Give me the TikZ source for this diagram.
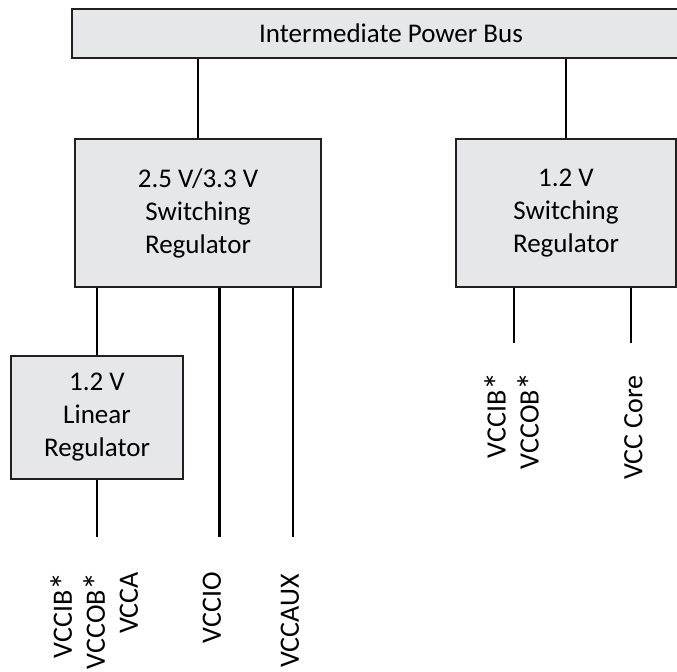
\documentclass[tikz,border=0pt]{standalone}
\usepackage{fontspec}
\setmainfont{Carlito}
\usetikzlibrary{positioning}
\definecolor{boxgray}{HTML}{E6E7E8}
\definecolor{edgegray}{HTML}{231F20}
\newcommand{\railast}{\raisebox{-0.35ex}{\scalebox{1.3}{*}}}

\begin{document}
\begin{tikzpicture}[x=0.5pt,y=-0.5pt,line width=1.1pt,
  regbox/.style={draw=edgegray,fill=boxgray,align=center,inner sep=0pt,font=\fontsize{13.5}{16.5}\selectfont},
  railtag/.style={rotate=90,anchor=east,align=right,inner sep=0pt,font=\fontsize{14}{16.5}\selectfont}]
\useasboundingbox (0,0) rectangle (677,672);
\clip (0,0) rectangle (677,672);
\node[regbox,minimum width=319pt,minimum height=24.5pt] (bus) at (391,33.5) {Intermediate Power Bus};
\node[regbox,minimum width=123pt,minimum height=74pt] (sw25) at (198,213) {2.5 V/3.3 V\\Switching\\Regulator};
\node[regbox,minimum width=110pt,minimum height=74pt] (sw12) at (566,213) {1.2 V\\Switching\\Regulator};
\node[regbox,minimum width=86pt,minimum height=61.5pt] (lin) at (97,417.5) {1.2 V\\Linear\\Regulator};
\coordinate (vccaend) at (97,537);
\coordinate (vccioend) at (219.5,537);
\coordinate (vccauxend) at (293,537);
\coordinate (vccbend) at (514,343);
\coordinate (coreend) at (631,343);
\draw (sw25.north) -- (sw25.north |- bus.south);
\draw (sw12.north) -- (sw12.north |- bus.south);
\draw (lin.north) -- (lin.north |- sw25.south);
\draw (lin.south) -- (vccaend);
\draw (vccioend |- sw25.south) -- (vccioend);
\draw (vccauxend |- sw25.south) -- (vccauxend);
\draw (vccbend |- sw12.south) -- (vccbend);
\draw (coreend |- sw12.south) -- (coreend);
\node[railtag] (tagleft) at (94.5,571) {VCCIB\railast\\VCCOB\railast\\VCCA};
\node[railtag] (tagio) at (212,571) {VCCIO};
\node[railtag] (tagaux) at (290,573) {VCCAUX};
\node[railtag] (tagright) at (514,371) {VCCIB\railast\\VCCOB\railast};
\node[railtag] (tagcore) at (633.5,374) {VCC Core};
\end{tikzpicture}
\end{document}
